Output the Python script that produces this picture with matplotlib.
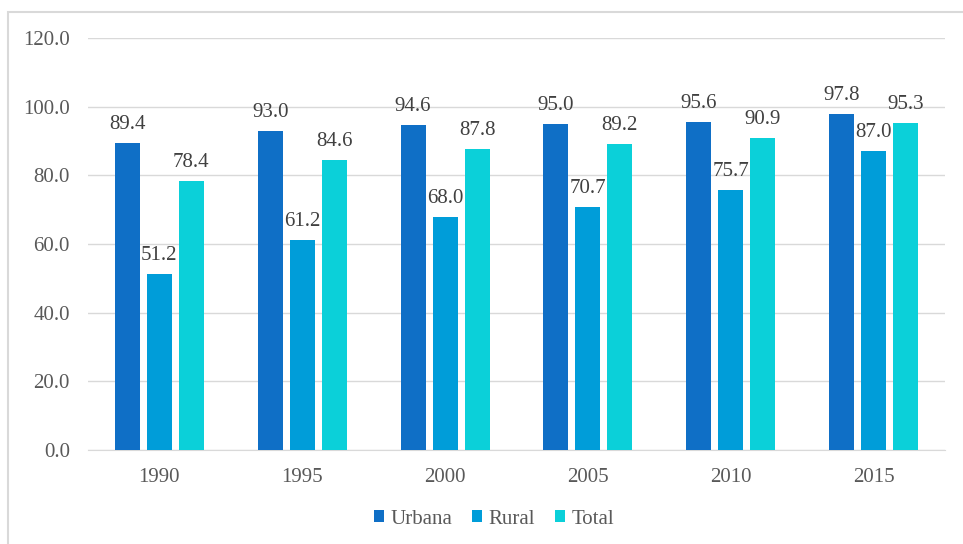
import numpy as np
import matplotlib
matplotlib.use("Agg")
import matplotlib.pyplot as plt
from matplotlib.patches import Rectangle

years = ["1990", "1995", "2000", "2005", "2010", "2015"]
urbana = [89.4, 93.0, 94.6, 95.0, 95.6, 97.8]
rural = [51.2, 61.2, 68.0, 70.7, 75.7, 87.0]
total = [78.4, 84.6, 87.8, 89.2, 90.9, 95.3]
series_names = ["Urbana", "Rural", "Total"]
colors = ["#0F6FC6", "#009DD9", "#0BD0D9"]

plt.rcParams["font.family"] = ["Liberation Serif", "DejaVu Serif"]
text_color = "#595959"
grid_color = "#D9D9D9"
fs = 15

fig = plt.figure(figsize=(9.63, 5.44), dpi=100)
fig.patch.set_facecolor("white")
# chart frame
fig.patches.append(Rectangle((8 / 963, -0.01), 1.0, 1 - 12 / 544 + 0.01,
                             transform=fig.transFigure, fill=False,
                             edgecolor=grid_color, linewidth=1.5))

ax = fig.add_axes([88 / 963, 1 - 450 / 544, (945 - 88) / 963, (450 - 38) / 544])
x = np.arange(len(years))
width = 0.175
step = 0.224
for i, (vals, name, c) in enumerate(zip([urbana, rural, total], series_names, colors)):
    pos = x + (i - 1) * step
    bars = ax.bar(pos, vals, width, color=c, label=name, zorder=3)
    for b, v in zip(bars, vals):
        ax.text(b.get_x() + b.get_width() / 2, v + 2.6, f"{v:.1f}",
                ha="center", va="bottom", fontsize=fs, color="#404040", zorder=4)

ax.set_xlim(-0.5, len(years) - 0.5)
ax.set_ylim(0, 120)
ax.set_yticks(np.arange(0, 121, 20))
ax.set_yticklabels([f"{t:.1f}" for t in np.arange(0, 121, 20)])
ax.set_xticks(x)
ax.set_xticklabels(years)
ax.grid(axis="y", color=grid_color, linewidth=1, zorder=0)
for s in ["top", "right", "left"]:
    ax.spines[s].set_visible(False)
ax.spines["bottom"].set_color(grid_color)
ax.tick_params(axis="both", length=0, labelsize=fs, labelcolor=text_color)
ax.tick_params(axis="x", pad=13)
ax.tick_params(axis="y", pad=13)

fig.legend(loc="center", bbox_to_anchor=(494 / 963, 1 - 519 / 544), ncol=3,
           frameon=False, fontsize=fs, labelcolor=text_color,
           handlelength=0.5, handleheight=0.5, handletextpad=0.3, columnspacing=0.95)

fig.savefig("out.png", dpi=100)
